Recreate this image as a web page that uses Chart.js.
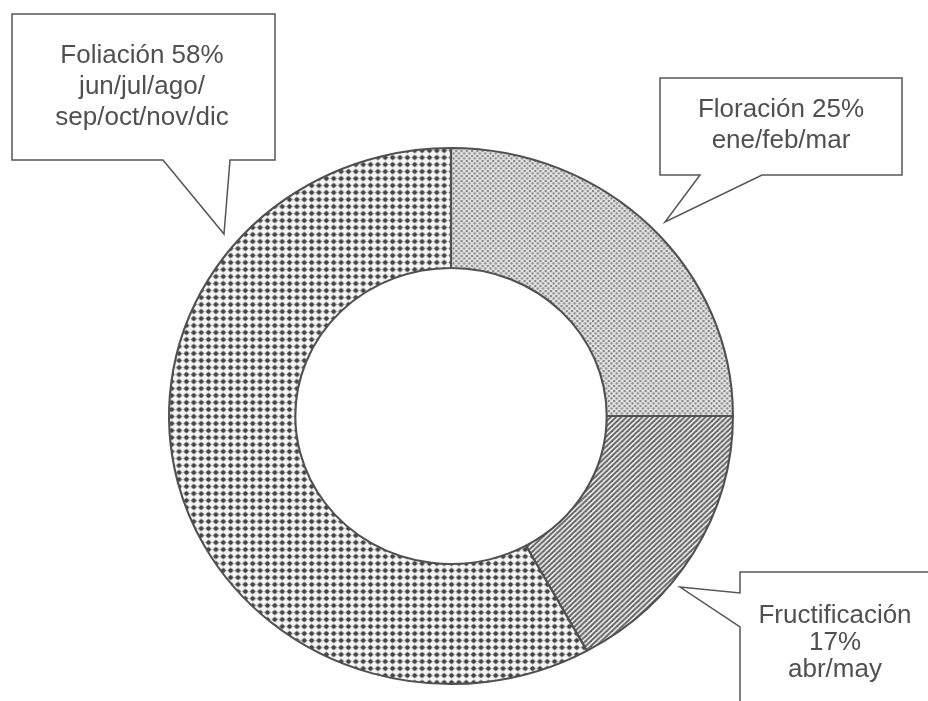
<!DOCTYPE html>
<html>
<head>
<meta charset="utf-8">
<title>Fenología</title>
<script src="https://cdn.jsdelivr.net/npm/chart.js@4.4.1/dist/chart.umd.min.js"></script>
<style>
  html, body { margin: 0; padding: 0; background: #fff; }
  #wrap { position: relative; width: 928px; height: 701px; }
</style>
</head>
<body>
<div id="wrap"><canvas id="fenologia"></canvas></div>
<script>
const labels = ['Floración', 'Fructificación', 'Foliación'];
const values = [25, 17, 58];
const months = ['ene/feb/mar', 'abr/may', 'jun/jul/ago/sep/oct/nov/dic'];

// small tiles used as fills, the scan is grey only
function makePattern(size, draw) {
  const c = document.createElement('canvas');
  c.width = size;
  c.height = size;
  const p = c.getContext('2d');
  draw(p, size);
  return p.createPattern(c, 'repeat');
}

const dotsFine = makePattern(5, (p, s) => {
  p.fillStyle = '#e2e2e2';
  p.fillRect(0, 0, s, s);
  p.fillStyle = '#858585';
  [[1, 1], [3.5, 3.5]].forEach(([x, y]) => {
    p.beginPath();
    p.arc(x, y, 1.15, 0, Math.PI * 2);
    p.fill();
  });
});

const stripes = makePattern(5, (p, s) => {
  p.fillStyle = '#ececec';
  p.fillRect(0, 0, s, s);
  p.strokeStyle = '#606060';
  p.lineWidth = 1.8;
  [[0, s, s, 0], [-1, 1, 1, -1], [s - 1, s + 1, s + 1, s - 1]].forEach(([a, b, c2, d]) => {
    p.beginPath();
    p.moveTo(a, b);
    p.lineTo(c2, d);
    p.stroke();
  });
});

const dotsGrid = makePattern(7, (p, s) => {
  p.fillStyle = '#f6f6f6';
  p.fillRect(0, 0, s, s);
  p.strokeStyle = '#cfcfcf';
  p.lineWidth = 1;
  p.beginPath();
  p.moveTo(0, 3.5); p.lineTo(s, 3.5);
  p.moveTo(3.5, 0); p.lineTo(3.5, s);
  p.stroke();
  p.fillStyle = '#444444';
  p.beginPath();
  p.arc(3.5, 3.5, 2.2, 0, Math.PI * 2);
  p.fill();
});

// the scanned ring is a bit wider than tall
const stretch = {
  id: 'stretch',
  beforeDatasetsDraw(chart) {
    const arc = chart.getDatasetMeta(0).data[0];
    const ctx = chart.ctx;
    ctx.save();
    ctx.translate(arc.x, 0);
    ctx.scale(1.052, 1);
    ctx.translate(-arc.x, 0);
  },
  afterDatasetsDraw(chart) {
    chart.ctx.restore();
  }
};

const callouts = [
  {
    lines: [labels[2] + ' ' + values[2] + '%', 'jun/jul/ago/', 'sep/oct/nov/dic'],
    cx: 142, y0: 63, step: 31,
    shape: [[12, 14], [275, 14], [275, 160], [230, 160], [224, 234], [163, 160], [12, 160]]
  },
  {
    lines: [labels[0] + ' ' + values[0] + '%', months[0]],
    cx: 781, y0: 117, step: 31,
    shape: [[660, 78], [902, 78], [902, 175], [762, 175], [665, 222], [700, 175], [660, 175]]
  },
  {
    lines: [labels[1], values[1] + '%', months[1]],
    cx: 835, y0: 623, step: 27,
    shape: [[740, 572], [940, 572], [940, 712], [740, 712], [740, 627], [680, 587], [740, 593]]
  }
];

const calloutPlugin = {
  id: 'callouts',
  afterDraw(chart) {
    const ctx = chart.ctx;
    ctx.save();
    callouts.forEach(c => {
      ctx.beginPath();
      c.shape.forEach(([x, y], i) => (i ? ctx.lineTo(x, y) : ctx.moveTo(x, y)));
      ctx.closePath();
      ctx.fillStyle = '#ffffff';
      ctx.fill();
      ctx.strokeStyle = '#555555';
      ctx.lineWidth = 1.5;
      ctx.stroke();

      ctx.fillStyle = '#505050';
      ctx.font = '26px "Liberation Sans", Arial, sans-serif';
      ctx.textAlign = 'center';
      ctx.textBaseline = 'alphabetic';
      c.lines.forEach((t, i) => ctx.fillText(t, c.cx, c.y0 + i * c.step));
    });
    ctx.restore();
  }
};

const ctx = document.getElementById('fenologia').getContext('2d');

const fenologiaChart = new Chart(ctx, {
  type: 'doughnut',
  data: {
    labels: labels,
    datasets: [
      {
        data: values,
        backgroundColor: [dotsFine, stripes, dotsGrid],
        borderColor: '#505050',
        borderWidth: 2,
        hoverOffset: 0
      }
    ]
  },
  options: {
    responsive: true,
    maintainAspectRatio: false,
    animation: false,
    cutout: 148,
    layout: {
      padding: { top: 147, bottom: 16, left: 151, right: 177 }
    },
    plugins: {
      legend: { display: false },
      tooltip: { enabled: false }
    }
  },
  plugins: [stretch, calloutPlugin]
});
</script>
</body>
</html>
